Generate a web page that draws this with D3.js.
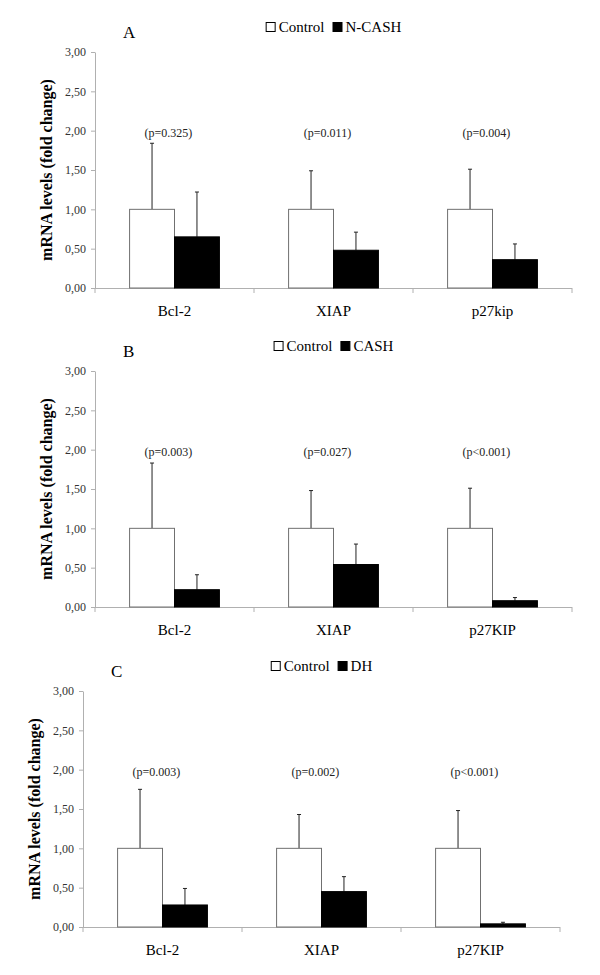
<!DOCTYPE html>
<meta charset="utf-8">
<script src="https://d3js.org/d3.v7.min.js"></script>
<div id="viz"></div>
<script>

// data
var genesA = ["Bcl-2", "XIAP", "p27kip"],
    genesBC = ["Bcl-2", "XIAP", "p27KIP"];

var controlA = [1.00, 1.00, 1.00], controlSdA = [0.84, 0.49, 0.51],
    treatA = [0.65, 0.48, 0.36], treatSdA = [0.57, 0.23, 0.20],
    pA = ["(p=0.325)", "(p=0.011)", "(p=0.004)"];

var controlB = [1.00, 1.00, 1.00], controlSdB = [0.83, 0.48, 0.51],
    treatB = [0.22, 0.54, 0.08], treatSdB = [0.19, 0.26, 0.04],
    pB = ["(p=0.003)", "(p=0.027)", "(p<0.001)"];

var controlC = [1.00, 1.00, 1.00], controlSdC = [0.75, 0.43, 0.48],
    treatC = [0.28, 0.45, 0.04], treatSdC = [0.21, 0.19, 0.02],
    pC = ["(p=0.003)", "(p=0.002)", "(p<0.001)"];

var yTicks = [0, 0.5, 1, 1.5, 2, 2.5, 3];

var panels = [
  {label: "A", treatName: "N-CASH", genes: genesA, control: controlA, controlSd: controlSdA, treat: treatA, treatSd: treatSdA, p: pA, left: 95, top: 52},
  {label: "B", treatName: "CASH", genes: genesBC, control: controlB, controlSd: controlSdB, treat: treatB, treatSd: treatSdB, p: pB, left: 95, top: 371},
  {label: "C", treatName: "DH", genes: genesBC, control: controlC, controlSd: controlSdC, treat: treatC, treatSd: treatSdC, p: pC, left: 83, top: 691}
];

var width = 477, height = 236;
var serif = "'Liberation Serif', 'Times New Roman', Times, 'DejaVu Serif', serif";

d3.select("body").style("margin", "0").style("background", "#fff");

var svg = d3.select("#viz")
  .append("svg")
    .attr("width", 600)
    .attr("height", 975)
    .style("font-family", serif);

svg.append("rect").attr("width", 600).attr("height", 975).attr("fill", "#fff");

var fmt = function(d) { return d3.format(".2f")(d).replace(".", ","); };

panels.forEach(function(p) {
  var g = svg.append("g")
    .attr("transform", "translate(" + p.left + "," + p.top + ")");

  var x0 = d3.scaleBand().domain(p.genes).range([0, width]);
  var x1 = d3.scaleBand().domain(["control", "treat"])
    .range([0, x0.bandwidth()]).paddingOuter(0.77);
  var y = d3.scaleLinear().domain([0, 3]).range([height, 0]);

  // y axis
  var ya = g.append("g")
    .call(d3.axisLeft(y).tickValues(yTicks).tickFormat(fmt).tickSize(4).tickPadding(5).tickSizeOuter(0));
  ya.attr("font-family", null);
  ya.select(".domain").attr("stroke", "#b0b0b0");
  ya.selectAll(".tick line").attr("stroke", "#b0b0b0");
  ya.selectAll(".tick text")
    .attr("fill", "#333")
    .style("font-size", "12px")
    .style("font-family", serif);

  // x axis with ticks between categories
  g.append("line")
    .attr("x1", 0).attr("x2", width)
    .attr("y1", height + 0.5).attr("y2", height + 0.5)
    .attr("stroke", "#b0b0b0");
  g.selectAll(".sep")
    .data(d3.range(p.genes.length + 1))
    .enter().append("line")
      .attr("x1", function(i) { return i * x0.step(); })
      .attr("x2", function(i) { return i * x0.step(); })
      .attr("y1", height)
      .attr("y2", height + 5)
      .attr("stroke", "#b0b0b0");

  g.selectAll(".cat")
    .data(p.genes)
    .enter().append("text")
      .attr("x", function(d) { return x0(d) + x0.bandwidth() / 2; })
      .attr("y", height + 28)
      .attr("text-anchor", "middle")
      .style("font-family", serif)
      .style("font-size", "15px")
      .text(function(d) { return d; });

  // bars
  var rows = p.genes.map(function(gene, i) {
    return [
      {gene: gene, key: "control", v: p.control[i], sd: p.controlSd[i]},
      {gene: gene, key: "treat", v: p.treat[i], sd: p.treatSd[i]}
    ];
  });
  var flat = [].concat.apply([], rows);
  var mid = function(d) { return x0(d.gene) + x1(d.key) + x1.bandwidth() / 2; };

  // error bars
  g.selectAll(".err")
    .data(flat)
    .enter().append("line")
      .attr("x1", mid)
      .attr("x2", mid)
      .attr("y1", function(d) { return y(d.v); })
      .attr("y2", function(d) { return y(d.v + d.sd); })
      .attr("stroke", "#222");
  g.selectAll(".cap")
    .data(flat)
    .enter().append("line")
      .attr("x1", function(d) { return mid(d) - 2; })
      .attr("x2", function(d) { return mid(d) + 2; })
      .attr("y1", function(d) { return y(d.v + d.sd); })
      .attr("y2", function(d) { return y(d.v + d.sd); })
      .attr("stroke", "#222");

  g.selectAll(".bar")
    .data(flat)
    .enter().append("rect")
      .attr("x", function(d) { return x0(d.gene) + x1(d.key); })
      .attr("y", function(d) { return y(d.v); })
      .attr("width", x1.bandwidth())
      .attr("height", function(d) { return height - y(d.v); })
      .attr("fill", function(d) { return d.key == "control" ? "#fff" : "#000"; })
      .attr("stroke", function(d) { return d.key == "control" ? "#707070" : "#000"; });

  // p values
  g.selectAll(".pval")
    .data(p.p)
    .enter().append("text")
      .attr("x", function(d, i) { return x0(p.genes[i]) + x0.bandwidth() / 2 - 6; })
      .attr("y", y(1.92))
      .attr("text-anchor", "middle")
      .attr("fill", "#222")
      .style("font-family", serif)
      .style("font-size", "12px")
      .text(function(d) { return d; });

  // y label
  g.append("text")
    .attr("transform", "translate(-43," + (height / 2) + ") rotate(-90)")
    .attr("text-anchor", "middle")
    .style("font-family", serif)
    .style("font-size", "16px")
    .style("font-weight", "bold")
    .text("mRNA levels (fold change)");

  // panel letter
  g.append("text")
    .attr("x", 28)
    .attr("y", -14)
    .style("font-family", serif)
    .style("font-size", "17px")
    .text(p.label);

  // legend centred over the plot
  var leg = g.append("g");
  var items = [{name: "Control", fill: "#fff"}, {name: p.treatName, fill: "#000"}];
  var cx = 0;
  items.forEach(function(it) {
    leg.append("rect")
      .attr("x", cx + 0.5).attr("y", -29.5)
      .attr("width", 9).attr("height", 9)
      .attr("fill", it.fill)
      .attr("stroke", "#000");
    var t = leg.append("text")
      .attr("x", cx + 13).attr("y", -20)
      .style("font-family", serif)
      .style("font-size", "15px")
      .text(it.name);
    cx += 13 + t.node().getComputedTextLength() + 8;
  });
  var lw = cx - 8;
  leg.attr("transform", "translate(" + (width / 2 - lw / 2) + ",0)");
});

</script>
